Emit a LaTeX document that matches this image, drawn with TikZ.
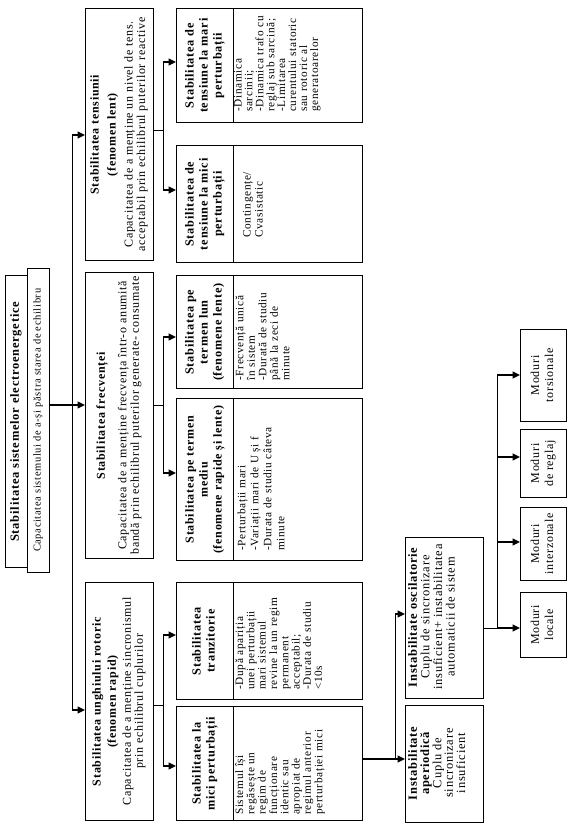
\documentclass[tikz,border=0pt]{standalone}
\usepackage{fontspec}
\setmainfont{Liberation Serif}[LetterSpace=6]
\usepackage{graphicx}
\usetikzlibrary{arrows.meta}
\newcommand\rtxt[3]{\rotatebox{90}{\fontsize{#1}{#2}\selectfont\begin{tabular}{@{}c@{}}#3\end{tabular}}}
\newcommand\rtxl[3]{\rotatebox{90}{\fontsize{#1}{#2}\selectfont\begin{tabular}{@{}l@{}}#3\end{tabular}}}
\begin{document}
\begin{tikzpicture}[x=1pt,y=-1pt,
  box/.style={draw, line width=0.7pt, inner sep=0pt, anchor=north west},
  ln/.style={line width=0.9pt},
  arr/.style={line width=1.5pt, -{Triangle[length=7.5pt,width=7pt]}},
  thk/.style={line width=2.2pt},
  txt/.style={inner sep=0pt}]
\useasboundingbox[fill=white] (0,0) rectangle (576,834);

% root
\node[box, minimum width=22, minimum height=292] (A) at (5,275) {\rtxt{12.5}{12}{\textbf{Stabilitatea sistemelor electroenergetice}}};
\node[box, minimum width=22, minimum height=304] (B) at (27,268) {\rtxt{10.5}{11}{Capacitatea sistemului de a-și păstra starea de echilibru}};

% level 1
\node[box, minimum width=68, minimum height=252] (V) at (85,8) {\rtxt{12}{12.5}{\textbf{Stabilitatea tensiunii}\\[4.5pt]\textbf{(fenomen lent)}\\[4.5pt]Capacitatea de a menține un nivel de tens.\\acceptabil prin echilibrul puterilor reactive}};
\node[box, minimum width=68, minimum height=286] (F) at (85,272) {\rtxt{12}{12.5}{\textbf{Stabilitatea  frecvenței}\\[9pt]Capacitatea de a menține frecvența într-o anumită\\bandă prin echilibrul puterilor generate- consumate}};
\node[box, minimum width=68, minimum height=238] (R) at (85,582) {\rtxt{12}{12}{\textbf{Stabilitatea  unghiului rotoric}\\[3pt]\textbf{(fenomen rapid)}\\[3pt]Capacitatea de a menține sincronismul\\prin echilibrul cuplurilor}};

% level 2 - voltage
\node[box, minimum width=57, minimum height=114] (VLt) at (176,8) {\rtxt{12.3}{14}{\textbf{Stabilitatea de}\\\textbf{tensiune la mari}\\\textbf{perturbații}}};
\node[box, minimum width=129, minimum height=114] (VLd) at (233,8) {};
\node[txt, anchor=south west] (VLx) at (234,112) {\rtxl{11.3}{10.5}{-Dinamica\\sarcinii;\\-Dinamica trafo cu\\reglaj sub sarcină;\\-Limitarea\\curentului statoric\\sau rotoric al\\generatoarelor}};

\node[box, minimum width=57, minimum height=117] (VSt) at (176,145) {\rtxt{12.3}{14}{\textbf{Stabilitatea de}\\\textbf{tensiune la mici}\\\textbf{perturbații}}};
\node[box, minimum width=129, minimum height=117] (VSd) at (233,145) {};
\node[txt, anchor=south west] (VSx) at (242,238) {\rtxl{11.3}{12}{Contingențe/\\Cvasistatic}};

% level 2 - frequency
\node[box, minimum width=57, minimum height=113] (FLt) at (176,275) {\rtxt{12.3}{14}{\textbf{Stabilitatea pe}\\\textbf{termen lun}\\\textbf{(fenomene lente)}}};
\node[box, minimum width=129, minimum height=113] (FLd) at (233,275) {};
\node[txt, anchor=south west] (FLx) at (235,381) {\rtxl{11.3}{11.5}{-Frecvență unică\\în sistem\\-Durată de studiu\\până la zeci de\\minute}};

\node[box, minimum width=57, minimum height=162] (FMt) at (176,398) {\rtxt{12}{14}{\textbf{Stabilitatea pe termen}\\\textbf{mediu}\\\textbf{(fenomene rapide și lente)}}};
\node[box, minimum width=129, minimum height=162] (FMd) at (233,398) {};
\node[txt, anchor=south west] (FMx) at (236,551) {\rtxl{11.3}{13}{-Perturbații mari\\-Variații mari de U și f\\-Durata de studiu câteva\\minute}};

% level 2 - rotor
\node[box, minimum width=57, minimum height=117] (RTt) at (176,582) {\rtxt{12.3}{14}{\textbf{Stabilitatea}\\\textbf{tranzitorie}}};
\node[box, minimum width=129, minimum height=117] (RTd) at (233,582) {};
\node[txt, anchor=south west] (RTx) at (235,690) {\rtxl{11.3}{11.3}{-După apariția\\unei perturbații\\mari sistemul\\revine la un regim\\permanent\\acceptabil;\\-Durata de studiu\\\textless10s}};

\node[box, minimum width=57, minimum height=114] (RSt) at (176,706) {\rtxt{12.3}{14}{\textbf{Stabilitatea la}\\\textbf{mici perturbații}}};
\node[box, minimum width=129, minimum height=114] (RSd) at (233,706) {};
\node[txt, anchor=south west] (RSx) at (235,815) {\rtxl{11.3}{11.3}{Sistemul își\\regăsește un\\regim de\\funcționare\\identic sau\\apropiat de\\regimul anterior\\perturbației mici}};

% instability
\node[box, minimum width=78, minimum height=161] (Osc) at (405,537) {};
\node[txt, anchor=west] (Oscx) at (408,617) {\rtxt{12.5}{12.5}{\textbf{Instabilitate oscilatorie}\\Cuplu de sincronizare\\insuficient+ instabilitatea\\automaticii de sistem}};
\node[box, minimum width=78, minimum height=117] (Ap) at (405,705) {};
\node[txt, anchor=west] (Apx) at (408,763) {\rtxt{12.5}{11.5}{\textbf{Instabilitate}\\\textbf{aperiodică}\\Cuplu de\\sincronizare\\insuficient}};

% modes
\node[box, minimum width=46, minimum height=92] (MT) at (520,329) {\rtxt{12}{14}{Moduri\\torsionale}};
\node[box, minimum width=46, minimum height=68] (MR) at (520,429) {\rtxt{12}{14}{Moduri\\de reglaj}};
\node[box, minimum width=46, minimum height=73] (MI) at (520,507) {\rtxt{12}{14}{Moduri\\interzonale}};
\node[box, minimum width=46, minimum height=65] (ML) at (520,592) {\rtxt{12}{14}{Moduri\\locale}};

% connectors root
\coordinate (tj) at (72,405);
\coordinate (t1) at (72,135);
\coordinate (t3) at (72,710);
\draw[line width=1.5pt] (B.east |- tj) -- (tj);
\draw[ln] (t1) -- (t3);
\draw[arr] (t1) -- (V.west |- t1);
\draw[arr] (tj) -- (F.west |- tj);
\draw[arr] (t3) -- (R.west |- t3);

% voltage
\coordinate (vj) at (163,130);
\coordinate (v1) at (163,62);
\coordinate (v2) at (163,190);
\draw[ln] (V.east |- vj) -- (vj);
\draw[ln] (v1) -- (v2);
\draw[arr] (v1) -- (VLt.west |- v1);
\draw[arr] (v2) -- (VSt.west |- v2);

% frequency
\coordinate (fj) at (163,405);
\coordinate (f1) at (163,337);
\coordinate (f2) at (163,473);
\draw[ln] (F.east |- fj) -- (fj);
\draw[ln] (f1) -- (f2);
\draw[arr] (f1) -- (FLt.west |- f1);
\draw[arr] (f2) -- (FMt.west |- f2);

% rotor
\coordinate (rj) at (163,705);
\coordinate (r1) at (163,635);
\coordinate (r2) at (163,766);
\draw[ln] (R.east |- rj) -- (rj);
\draw[ln] (r1) -- (r2);
\draw[arr] (r1) -- (RTt.west |- r1);
\draw[arr] (r2) -- (RSt.west |- r2);

% instability
\coordinate (ij) at (395,759);
\coordinate (i1) at (395,614);
\draw[thk] (RSd.east |- ij) -- (ij);
\draw[ln] (ij) -- (i1);
\draw[arr] (i1) -- (Osc.west |- i1);
\draw[arr] (ij) -- (Ap.west |- ij);

% modes
\coordinate (mj) at (497,628);
\coordinate (m1) at (497,375);
\coordinate (m2) at (497,457);
\coordinate (m3) at (497,542);
\draw[ln] (Osc.east |- mj) -- (mj);
\draw[ln] (mj) -- (m1);
\draw[arr] (m1) -- (MT.west |- m1);
\draw[arr] (m2) -- (MR.west |- m2);
\draw[arr] (m3) -- (MI.west |- m3);
\draw[arr] (mj) -- (ML.west |- mj);
\end{tikzpicture}
\end{document}
